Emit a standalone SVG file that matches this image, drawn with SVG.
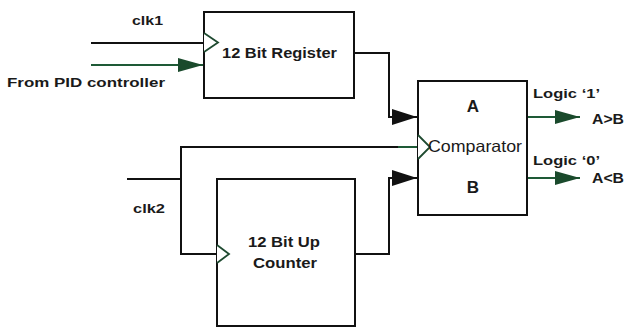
<svg xmlns="http://www.w3.org/2000/svg" width="634" height="328" viewBox="0 0 634 328">
<style>
  .box{fill:#fff;stroke:#111;stroke-width:2}
  .w{fill:none;stroke:#111;stroke-width:2}
  .g{fill:none;stroke:#1e5a36;stroke-width:2}
  .clk{fill:#fff;stroke:#1e4a30;stroke-width:1.8}
  text{font-family:"Liberation Sans",Arial,sans-serif;font-weight:bold;font-size:13.5px;fill:#1a1a1a}
  .c{text-anchor:middle}
  .n{font-weight:normal}
  .big{font-size:17px}
  .mid{font-size:15px}
</style>
<defs>
  <marker id="ab" markerUnits="userSpaceOnUse" markerWidth="26" markerHeight="16" refX="25" refY="8" orient="auto">
    <path d="M0,0 L25,8 L0,16 z" fill="#111"/>
  </marker>
  <marker id="ag" markerUnits="userSpaceOnUse" markerWidth="26" markerHeight="16" refX="25" refY="8" orient="auto">
    <path d="M0,1 L25,8 L0,15 z" fill="#1a4a2c"/>
  </marker>
</defs>
<rect width="634" height="328" fill="#fff"/>
<g id="connectors">
  <line class="w" x1="91" y1="43" x2="204" y2="43"/>
  <line class="g" x1="91" y1="65" x2="203" y2="65" marker-end="url(#ag)"/>
  <polyline class="w" points="354,53 389,53 389,117 417,117" marker-end="url(#ab)"/>
  <polyline class="w" points="127,179 181,179"/>
  <polyline class="w" points="217,254 181,254 181,147 400,147"/>
  <line class="g" x1="398" y1="147" x2="418" y2="147"/>
  <polyline class="w" points="355,254 389,254 389,178 417,178" marker-end="url(#ab)"/>
  <line class="g" x1="528" y1="117" x2="580" y2="117" marker-end="url(#ag)"/>
  <line class="g" x1="528" y1="178" x2="580" y2="178" marker-end="url(#ag)"/>
</g>
<g id="register">
  <rect class="box" x="204" y="12" width="150" height="86"/>
  <polyline class="clk" points="204,33 218,42.5 204,52"/>
  <text class="mid" x="222" y="58" textLength="115" lengthAdjust="spacingAndGlyphs">12 Bit Register</text>
</g>
<g id="comparator">
  <rect class="box" x="418" y="81" width="109" height="134"/>
  <polyline class="clk" points="418,135 430,147 418,159"/>
  <text class="c big" x="473" y="112">A</text>
  <text class="n" x="428" y="152" style="font-size:16.5px" textLength="94" lengthAdjust="spacingAndGlyphs">Comparator</text>
  <text class="c big" x="473" y="193">B</text>
</g>
<g id="counter">
  <rect class="box" x="217" y="179" width="138" height="147"/>
  <polyline class="clk" points="217,245 229,254 217,263"/>
  <text class="mid" x="248" y="247" textLength="72" lengthAdjust="spacingAndGlyphs">12 Bit Up</text>
  <text class="mid" x="253" y="268" textLength="64" lengthAdjust="spacingAndGlyphs">Counter</text>
</g>
<g id="labels">
  <text x="132" y="25" textLength="31" lengthAdjust="spacingAndGlyphs">clk1</text>
  <text x="7" y="87" textLength="158" lengthAdjust="spacingAndGlyphs">From PID controller</text>
  <text x="133" y="213" textLength="32" lengthAdjust="spacingAndGlyphs">clk2</text>
  <text x="533" y="98" textLength="67" lengthAdjust="spacingAndGlyphs">Logic ‘1’</text>
  <text x="592" y="124" style="font-size:14px" textLength="32" lengthAdjust="spacingAndGlyphs">A&gt;B</text>
  <text x="533" y="165" textLength="67" lengthAdjust="spacingAndGlyphs">Logic ‘0’</text>
  <text x="592" y="183" style="font-size:14px" textLength="32" lengthAdjust="spacingAndGlyphs">A&lt;B</text>
</g>
</svg>
